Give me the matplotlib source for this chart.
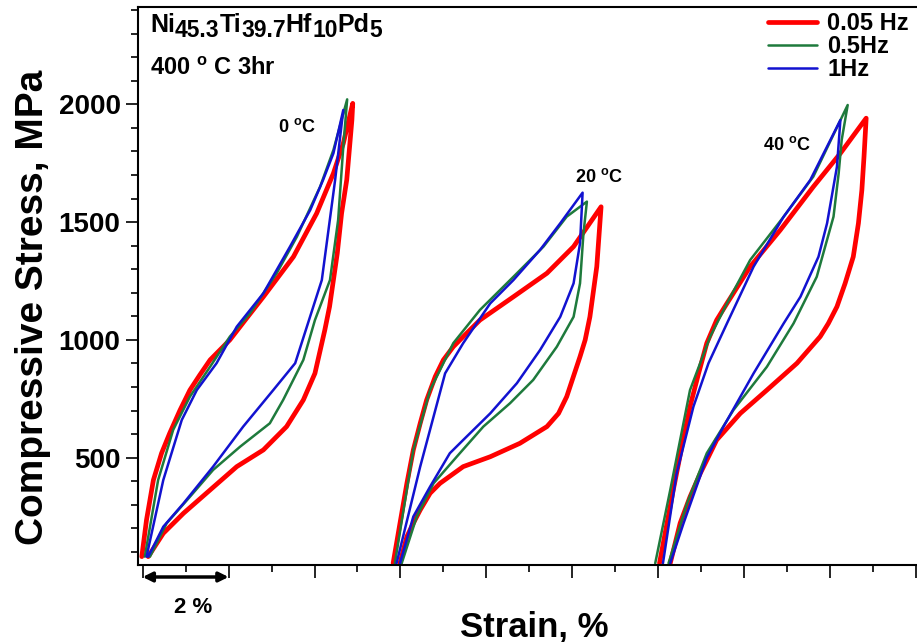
import numpy as np
import matplotlib.pyplot as plt
from matplotlib.ticker import MultipleLocator, NullFormatter

plt.rcParams['font.family'] = 'Liberation Sans'
plt.rcParams['font.weight'] = 'bold'
plt.rcParams['mathtext.fontset'] = 'custom'
plt.rcParams['mathtext.rm'] = 'Liberation Sans:bold'
plt.rcParams['mathtext.bf'] = 'Liberation Sans:bold'

# --- data (strain in %, stress in MPa); loading then unloading ---
# 0.05 Hz
strain_005_0C = [-0.02, 0.09, 0.25, 0.44, 0.63, 0.87, 1.10, 1.33, 1.57, 2.03, 2.42, 2.81,
                 3.51, 4.05, 4.44, 4.67, 4.89,
                 4.87, 4.83, 4.75, 4.63, 4.53, 4.44, 4.35, 4.24, 4.01, 3.74, 3.35, 2.81,
                 2.19, 1.57, 0.95, 0.48, 0.13]
stress_005_0C = [80, 236, 405, 519, 604, 702, 787, 851, 915, 1000, 1092, 1183,
                 1353, 1537, 1707, 1834, 2004,
                 1933, 1848, 1679, 1537, 1368, 1254, 1141, 1042, 858, 745, 632, 533,
                 462, 363, 264, 179, 80]
strain_005_20C = [5.83, 5.99, 6.15, 6.30, 6.46, 6.61, 6.81, 7.00, 7.23, 7.54, 7.85, 8.63,
                  9.41, 10.03, 10.67,
                  10.57, 10.41, 10.30, 10.18, 9.87, 9.68, 9.41, 8.78, 8.09, 7.46, 6.92,
                  6.69, 6.46, 6.30, 6.15, 5.99]
stress_005_20C = [52, 222, 391, 533, 646, 745, 844, 915, 971, 1028, 1084, 1183,
                  1283, 1396, 1565,
                  1311, 1098, 1000, 929, 759, 688, 632, 561, 504, 462, 391,
                  349, 278, 222, 165, 52]
strain_005_40C = [12.03, 12.35, 12.55, 12.74, 12.94, 13.13, 13.36, 13.60, 14.14, 14.84,
                  15.61, 16.24, 16.84,
                  16.79, 16.74, 16.66, 16.54, 16.35, 16.16, 15.96, 15.77, 15.23, 14.53,
                  13.91, 13.36, 13.17, 12.98, 12.74, 12.51, 12.28]
stress_005_40C = [52, 363, 547, 717, 858, 986, 1084, 1155, 1311, 1466,
                  1650, 1792, 1941,
                  1778, 1636, 1495, 1353, 1240, 1141, 1070, 1014, 901, 787,
                  688, 575, 504, 434, 334, 222, 52]

# 0.5 Hz
strain_05_0C = [0.05, 0.36, 0.71, 1.10, 1.57, 2.03, 2.50, 3.12, 3.59, 4.13, 4.44, 4.76,
                4.67, 4.55, 4.36, 4.01, 3.74, 3.27, 2.96, 2.27, 1.64, 1.10, 0.56, 0.17]
stress_05_0C = [80, 405, 618, 759, 886, 1014, 1113, 1283, 1438, 1650, 1806, 2021,
                1820, 1509, 1254, 1084, 915, 745, 646, 547, 448, 334, 222, 80]
strain_05_20C = [5.87, 6.30, 6.69, 7.23, 7.85, 8.63, 9.33, 9.87, 10.34,
                 10.26, 10.18, 10.03, 9.64, 9.09, 8.55, 7.93, 7.31, 6.77, 6.38, 6.03]
stress_05_20C = [52, 533, 787, 986, 1127, 1268, 1396, 1523, 1587,
                 1452, 1240, 1098, 971, 830, 731, 632, 504, 391, 250, 52]
strain_05_40C = [11.93, 12.28, 12.74, 13.21, 13.60, 14.14, 14.92, 15.61, 16.41,
                 16.27, 16.20, 16.08, 15.69, 15.15, 14.53, 13.75, 13.13, 12.67, 12.24]
stress_05_40C = [52, 363, 787, 1014, 1155, 1339, 1523, 1693, 1997,
                 1848, 1707, 1523, 1268, 1070, 886, 702, 519, 306, 52]

# 1 Hz
strain_1_0C = [0.09, 0.48, 0.91, 1.26, 1.72, 2.19, 2.81, 3.43, 3.90, 4.20, 4.44, 4.67,
               4.48, 4.17, 3.55, 3.04, 2.34, 1.64, 0.95, 0.48, 0.13]
stress_1_0C = [80, 405, 660, 787, 901, 1056, 1198, 1396, 1551, 1679, 1792, 1976,
               1679, 1254, 901, 787, 632, 462, 306, 207, 80]
strain_1_20C = [5.91, 6.46, 7.04, 7.46, 8.09, 8.63, 9.25, 9.72, 10.24,
                10.18, 10.03, 9.72, 9.25, 8.71, 8.09, 7.46, 7.15, 6.69, 6.30, 5.99]
stress_1_20C = [52, 462, 858, 986, 1155, 1254, 1382, 1495, 1625,
                1410, 1240, 1098, 957, 816, 688, 575, 519, 377, 250, 52]
strain_1_40C = [12.11, 12.43, 12.82, 13.17, 13.60, 14.22, 14.92, 15.54, 16.24,
                16.16, 15.93, 15.73, 15.31, 14.92, 14.22, 13.52, 13.13, 12.59, 12.28]
stress_1_40C = [52, 434, 717, 901, 1070, 1311, 1523, 1679, 1933,
                1735, 1495, 1353, 1183, 1070, 858, 632, 500, 222, 52]

freq_labels = ['0.05 Hz', '0.5Hz', '1Hz']
temp_labels = ['0 $^{\\mathbf{o}}$C', '20 $^{\\mathbf{o}}$C', '40 $^{\\mathbf{o}}$C']
temp_label_pos = [(3.15, 1884), (10.07, 1671), (14.45, 1806)]

W, H = 917, 642
fig = plt.figure(figsize=(W / 100, H / 100), dpi=100)
ax = fig.add_axes([137.5 / W, 1 - 565 / H, (916 - 137.5) / W, (565 - 7) / H])

curves = [
    ([strain_005_0C, strain_005_20C, strain_005_40C],
     [stress_005_0C, stress_005_20C, stress_005_40C], '#ff0000', 3.4),
    ([strain_05_0C, strain_05_20C, strain_05_40C],
     [stress_05_0C, stress_05_20C, stress_05_40C], '#1e7a3c', 1.8),
    ([strain_1_0C, strain_1_20C, strain_1_40C],
     [stress_1_0C, stress_1_20C, stress_1_40C], '#1212d0', 1.8),
]
for (xs, ys, col, lw), lab in zip(curves, freq_labels):
    for i, (x, y) in enumerate(zip(xs, ys)):
        ax.plot(x, y, color=col, lw=lw, solid_joinstyle='round', solid_capstyle='round',
                label=lab if i == 0 else None)

ax.set_xlim(-0.12, 18.0)
ax.set_ylim(44.5, 2413)
ax.xaxis.set_major_locator(MultipleLocator(2))
ax.xaxis.set_minor_locator(MultipleLocator(1))
ax.xaxis.set_major_formatter(NullFormatter())
ax.yaxis.set_major_locator(MultipleLocator(500))
ax.yaxis.set_minor_locator(MultipleLocator(100))
ax.tick_params(axis='x', which='major', length=9.5, width=1.2, direction='out')
ax.tick_params(axis='x', which='minor', length=5, width=1.2, direction='out')
ax.tick_params(axis='y', which='major', length=8.6, width=1.2, direction='out',
               labelsize=20, pad=3.6)
ax.tick_params(axis='y', which='minor', length=5, width=1.2, direction='out')
for s in ['left', 'bottom', 'top']:
    ax.spines[s].set_linewidth(1.5)
ax.spines['right'].set_visible(False)

ax.set_xlabel('Strain, %', fontsize=25, fontweight='bold', va='baseline')
ax.xaxis.set_label_coords(0.509, -0.1285)
ax.set_ylabel('Compressive Stress, MPa', fontsize=28, fontweight='bold')
ax.yaxis.set_label_coords(-0.111, 0.462)

# 2 % scale bar
ax.annotate('', xy=(2, -0.0215), xytext=(0, -0.0215),
            xycoords=('data', 'axes fraction'),
            arrowprops=dict(arrowstyle='<|-|>', lw=2.5, color='black',
                            mutation_scale=14, shrinkA=0, shrinkB=0),
            annotation_clip=False)
ax.text(1.17, -0.077, '2 %', transform=ax.get_xaxis_transform(),
        ha='center', va='center', fontsize=16, fontweight='bold')

# composition label with lowered subscripts
pieces = [('Ni', False), ('45.3', True), ('Ti', False), ('39.7', True),
          ('Hf', False), ('10', True), ('Pd', False), ('5', True)]
t = ax.text(0.016, 0.955, pieces[0][0], transform=ax.transAxes, fontsize=18,
            fontweight='bold', va='baseline')
prev_sub = False
for txt, sub in pieces[1:]:
    dy = -3.5 if sub and not prev_sub else (3.5 if prev_sub and not sub else 0)
    t = ax.annotate(txt, xy=(1, 0), xycoords=t, xytext=(0, dy), textcoords='offset points',
                    fontsize=16.5 if sub else 18, fontweight='bold', va='bottom')
    prev_sub = sub
ax.text(0.016, 0.878, '400 $^{\\mathbf{o}}$ C 3hr', transform=ax.transAxes,
        fontsize=17, fontweight='bold', va='baseline')

for lab, (x, y) in zip(temp_labels, temp_label_pos):
    ax.text(x, y, lab, fontsize=13, fontweight='bold', va='baseline')

ax.legend(loc='upper right', bbox_to_anchor=(909 / W, 1 - 12 / H),
          bbox_transform=fig.transFigure, frameon=False,
          handlelength=2.1, handletextpad=0.42, labelspacing=0.0, borderpad=0,
          borderaxespad=0, prop={'weight': 'bold', 'size': 17})

fig.savefig('out.png', dpi=100)
